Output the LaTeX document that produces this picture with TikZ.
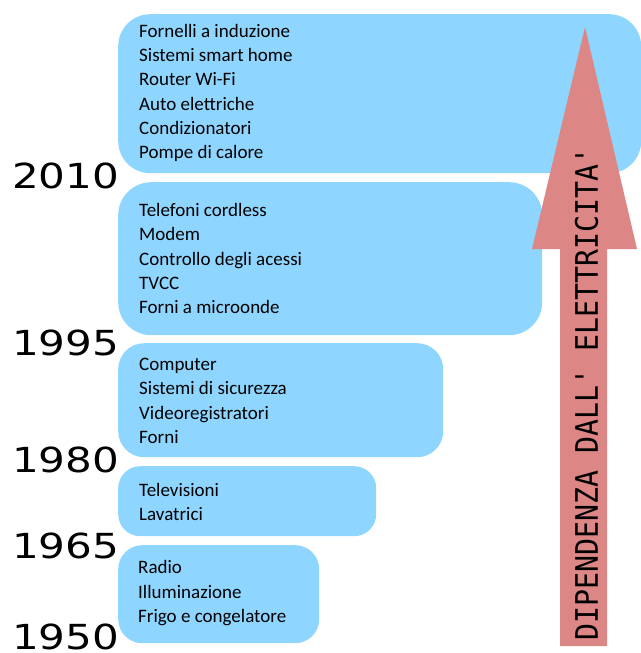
\documentclass[tikz,border=0pt]{standalone}
\usepackage{fontspec}
\setmainfont{Carlito}
\newfontfamily\yearfont{DejaVu Sans}
\newfontfamily\arrowfont{DejaVu Sans Mono}
\usetikzlibrary{calc}
\definecolor{eraBlue}{HTML}{8ED6FF}
\definecolor{arrowPink}{HTML}{DC8686}
\tikzset{
    era/.style =    {rectangle,
                    fill=eraBlue,
                    draw=none,
                    inner sep=0pt,
                    anchor=north west},
    item/.style =   {anchor=base west,
                    inner sep=0pt,
                    text=black,
                    font=\fontsize{19}{24}\selectfont},
    year/.style =   {anchor=base west,
                    inner sep=0pt,
                    text=black,
                    font=\yearfont\fontsize{34.5}{34.5}\selectfont},
    trend/.style =  {rotate=90,
                    inner sep=0pt,
                    text=black,
                    font=\arrowfont\fontsize{31}{31}\selectfont}}

\begin{document}
\begin{tikzpicture}[x=1pt,y=-1pt]
    \useasboundingbox (0,0) rectangle (640,653);

    % one box for each period
    \node[era, rounded corners=32pt, minimum width=523pt, minimum height=159pt] (e2010) at (118,14)  {};
    \node[era, rounded corners=33pt, minimum width=424pt, minimum height=153pt] (e1995) at (118,182) {};
    \node[era, rounded corners=26pt, minimum width=325pt, minimum height=114pt] (e1980) at (118,343) {};
    \node[era, rounded corners=22pt, minimum width=258pt, minimum height=70pt]  (e1965) at (118,466) {};
    \node[era, rounded corners=24pt, minimum width=201pt, minimum height=98pt]  (e1950) at (118,545) {};

    % appliances listed in each box
    \foreach \name [count=\i] in {Fornelli a induzione,Sistemi smart home,Router Wi-Fi,
                                 Auto elettriche,Condizionatori,Pompe di calore}
        \node[item] (i2010-\i) at (139,{37.5+24.2*(\i-1)}) {\name};
    \foreach \name [count=\i] in {Telefoni cordless,Modem,Controllo degli acessi,
                                 TVCC,Forni a microonde}
        \node[item] (i1995-\i) at (139,{216.5+24.3*(\i-1)}) {\name};
    \foreach \name [count=\i] in {Computer,Sistemi di sicurezza,Videoregistratori,Forni}
        \node[item] (i1980-\i) at (139,{370.5+24.3*(\i-1)}) {\name};
    \foreach \name [count=\i] in {Televisioni,Lavatrici}
        \node[item] (i1965-\i) at (139,{496.5+24.3*(\i-1)}) {\name};
    \foreach \name [count=\i] in {Radio,Illuminazione,Frigo e congelatore}
        \node[item] (i1950-\i) at (138,{573.5+24.5*(\i-1)}) {\name};

    % years on the left
    \foreach \yr/\base in {2010/188,1995/355,1980/472,1965/558,1950/649}
        \node[year] (y\yr) at (12,\base) {\scalebox{1.22}[1]{\yr}};

    % the big arrow
    \coordinate (tip)    at (585,27);
    \coordinate (headL)  at (532,249);
    \coordinate (headR)  at (637,249);
    \coordinate (shaftL) at (560,249);
    \coordinate (shaftR) at (607,249);
    \coordinate (baseL)  at (560,646);
    \coordinate (baseR)  at (607,646);
    \fill[arrowPink] (tip) -- (headR) -- (shaftR) -- (baseR) -- (baseL)
        -- (shaftL) -- (headL) -- cycle;
    \node[trend] (dip) at (586.5,394) {\scalebox{0.91}[1]{DIPENDENZA DALL' ELETTRICITA'}};
\end{tikzpicture}
\end{document}
